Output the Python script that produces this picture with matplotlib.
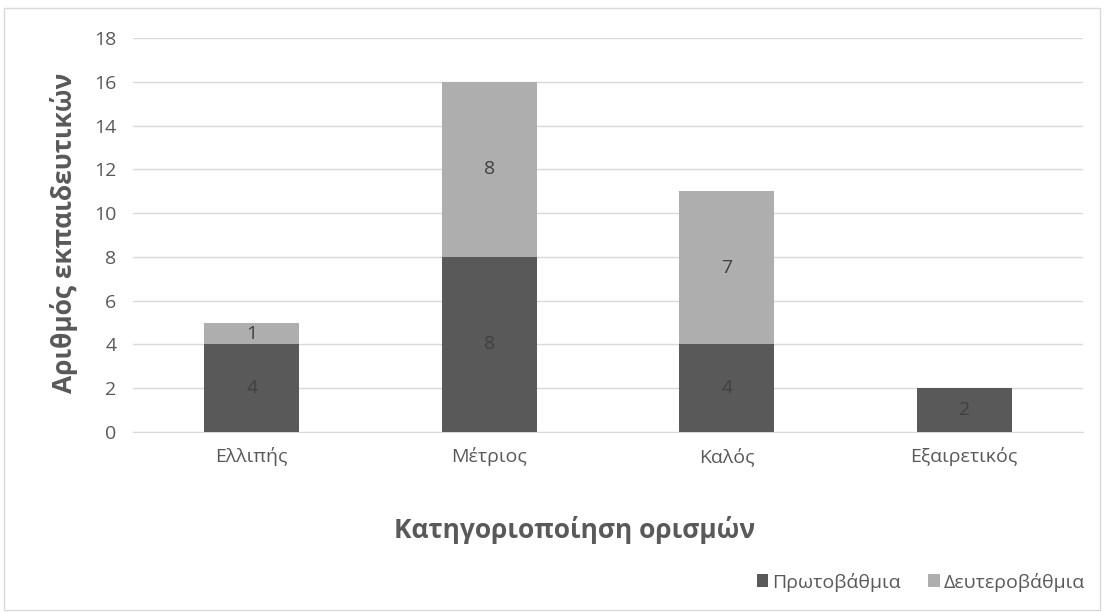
import numpy as np
import matplotlib.pyplot as plt
from matplotlib.patches import Rectangle

plt.rcParams['font.family'] = ['Open Sans', 'DejaVu Sans']

categories = ['Ελλιπής', 'Μέτριος', 'Καλός', 'Εξαιρετικός']
protovathmia = [4, 8, 4, 2]
defterovathmia = [1, 8, 7, 0]

dark = '#595959'
light = '#AEAEAE'
txt = '#595959'

fig = plt.figure(figsize=(11.04, 6.12), dpi=100)
fig.patches.append(Rectangle((0.004, 0.003), 0.992, 0.984, transform=fig.transFigure,
                             fill=False, edgecolor='#D9D9D9', lw=1))
ax = fig.add_axes([0.1205, 0.294, 0.8605, 0.644])

x = np.arange(len(categories))
b1 = ax.bar(x, protovathmia, width=0.4, color=dark, label='Πρωτοβάθμια', zorder=3)
b2 = ax.bar(x, defterovathmia, width=0.4, bottom=protovathmia, color=light,
            label='Δευτεροβάθμια', zorder=3)

# data labels, centred in each segment
for i in range(len(categories)):
    ax.text(x[i], protovathmia[i] / 2, str(protovathmia[i]), ha='center', va='center',
            fontsize=14, color='#404040', zorder=4)
    if defterovathmia[i] > 0:
        ax.text(x[i], protovathmia[i] + defterovathmia[i] / 2, str(defterovathmia[i]),
                ha='center', va='center', fontsize=14, color='#404040', zorder=4)

ax.set_xlim(-0.5, 3.5)
ax.set_ylim(0, 18)
ax.set_yticks(range(0, 19, 2))
ax.set_xticks(x)
ax.set_xticklabels(categories)
ax.tick_params(axis='both', length=0, labelsize=14, colors=txt)
ax.tick_params(axis='y', pad=12)
ax.tick_params(axis='x', pad=11)
ax.grid(axis='y', color='#D9D9D9', lw=1, zorder=0)
for s in ['top', 'right', 'left']:
    ax.spines[s].set_visible(False)
ax.spines['bottom'].set_color('#D9D9D9')

fig.text(64 / 1104, 1 - 233 / 612, 'Αριθμός εκπαιδευτικών', rotation=90, ha='center',
         va='center', fontsize=19, fontweight='bold', color=txt)
fig.text(575 / 1104, 1 - 530 / 612, 'Κατηγοριοποίηση ορισμών', ha='center',
         va='center', fontsize=19, fontweight='bold', color=txt)

leg = fig.legend(handles=[b1, b2], loc='center right', bbox_to_anchor=(0.995, 0.049), ncol=2,
                 frameon=False, fontsize=14, handlelength=0.6, handleheight=0.6,
                 handletextpad=0.2, columnspacing=1.4, borderpad=0.2)
for t in leg.get_texts():
    t.set_color(txt)

fig.savefig('out.png', dpi=100)
